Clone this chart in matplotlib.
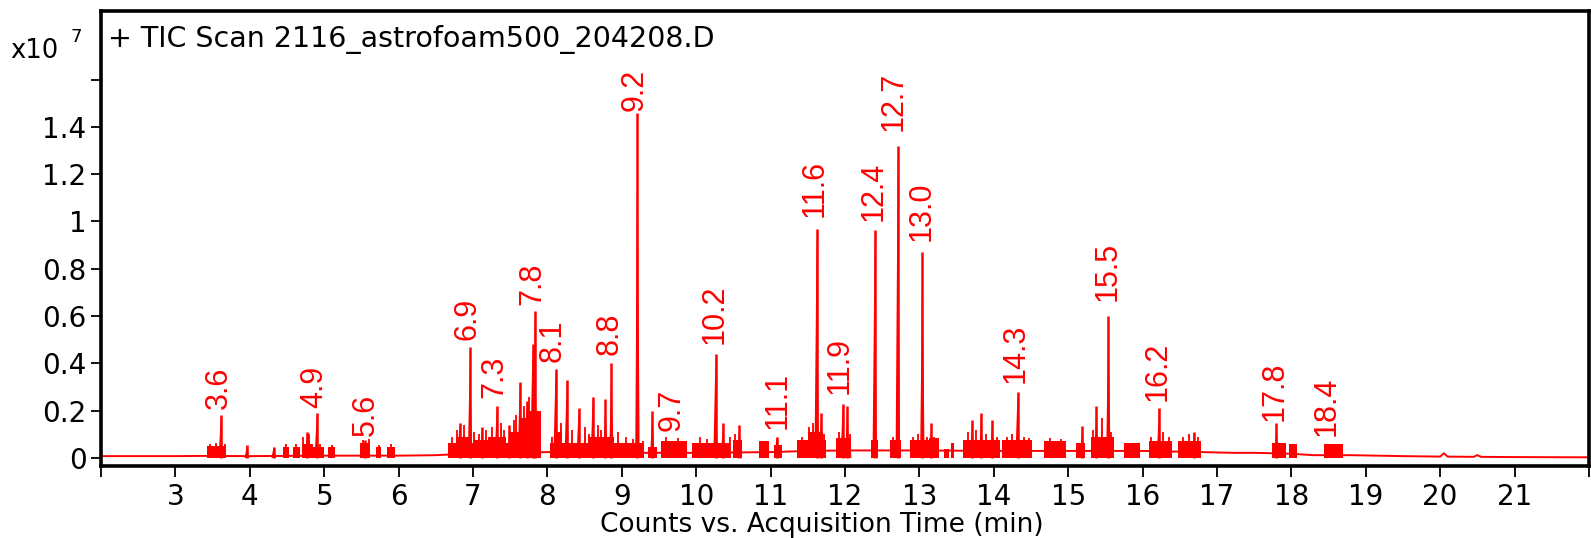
import matplotlib
matplotlib.use("Agg")
import matplotlib.pyplot as plt

# ---------------- data (units of 1e7 counts) ----------------
baseline_t = [2.0, 3.0, 3.4, 4.0, 5.0, 6.0, 6.5, 7.0, 8.0, 9.0, 10.0, 11.0, 11.5, 12.0,
              13.0, 14.0, 15.0, 16.0, 16.8, 17.2, 17.5, 18.0, 18.3, 18.8, 19.5, 20.0,
              20.05, 20.1, 20.45, 20.5, 20.55, 21.0, 22.0]
baseline_v = [0.008, 0.008, 0.009, 0.008, 0.010, 0.010, 0.012, 0.020, 0.025, 0.022, 0.022,
              0.025, 0.030, 0.032, 0.032, 0.030, 0.030, 0.030, 0.025, 0.022, 0.022, 0.018,
              0.012, 0.012, 0.008, 0.006, 0.020, 0.006, 0.005, 0.012, 0.005, 0.004, 0.003]

peak_t = [3.61, 3.96, 4.32, 4.77, 4.90, 5.55, 6.82, 6.96, 7.12, 7.32, 7.49, 7.63, 7.72,
          7.80, 7.83, 8.11, 8.26, 8.42, 8.61, 8.78, 8.86, 9.21, 9.41, 10.26, 10.36, 10.58,
          11.08, 11.62, 11.68, 11.97, 12.03, 12.40, 12.71, 13.04, 13.16, 13.71, 13.83,
          13.98, 14.32, 15.19, 15.38, 15.54, 16.22, 16.69, 17.80]
peak_v = [0.18, 0.055, 0.047, 0.11, 0.19, 0.075, 0.15, 0.47, 0.13, 0.22, 0.14, 0.32, 0.24,
          0.48, 0.62, 0.376, 0.33, 0.21, 0.26, 0.25, 0.40, 1.46, 0.20, 0.44, 0.15, 0.14,
          0.09, 0.97, 0.19, 0.23, 0.22, 0.965, 1.32, 0.87, 0.15, 0.16, 0.19,
          0.16, 0.28, 0.135, 0.22, 0.60, 0.21, 0.11, 0.15]

# small noise spikes riding on the dense regions
noise_t = [3.47, 3.55, 3.66, 4.48, 4.62, 4.72, 4.80, 4.95, 5.10, 5.52, 5.60, 5.73, 5.90,
           6.72, 6.78, 6.88, 7.02, 7.08, 7.18, 7.25, 7.38, 7.42, 7.55, 7.58, 7.68, 7.75,
           7.88, 8.06, 8.18, 8.33, 8.50, 8.56, 8.68, 8.72, 8.95, 9.05, 9.15, 9.28, 9.60,
           9.75, 10.05, 10.15, 10.45, 10.52, 11.42, 11.52, 11.57, 11.72, 11.92, 12.07,
           12.65, 12.92, 12.98, 13.10, 13.20, 13.65, 13.76, 13.90, 14.05, 14.18, 14.25,
           14.40, 14.48, 14.75, 14.90, 15.33, 15.45, 15.58, 16.12, 16.28, 16.35, 16.55,
           16.62, 16.75]
noise_v = [0.06, 0.065, 0.06, 0.06, 0.06, 0.09, 0.10, 0.06, 0.055, 0.075, 0.08, 0.055,
           0.06, 0.09, 0.12, 0.14, 0.11, 0.10, 0.12, 0.13, 0.15, 0.12, 0.16, 0.18, 0.22,
           0.26, 0.12, 0.09, 0.15, 0.12, 0.13, 0.10, 0.14, 0.12, 0.11, 0.09, 0.08, 0.07,
           0.09, 0.085, 0.09, 0.08, 0.09, 0.10, 0.09, 0.13, 0.15, 0.10, 0.11, 0.10,
           0.09, 0.09, 0.10, 0.09, 0.09, 0.11, 0.12, 0.10, 0.09, 0.09, 0.10,
           0.09, 0.085, 0.085, 0.08, 0.12, 0.17, 0.11, 0.09, 0.11, 0.09, 0.09,
           0.10, 0.09]

band_start = [3.43, 4.45, 4.58, 4.70, 4.85, 5.05, 5.48, 5.70, 5.85, 6.67, 6.78, 7.00, 7.20,
              7.50, 7.62, 7.75, 8.03, 8.10, 8.55, 9.10, 9.35, 9.53, 9.95, 10.50, 10.85,
              11.05, 11.35, 11.50, 11.88, 12.35, 12.60, 12.88, 13.13, 13.33, 13.43, 13.58,
              14.11, 14.68, 15.10, 15.31, 15.75, 16.08, 16.47, 17.74, 17.97, 18.44]
band_end = [3.68, 4.53, 4.68, 4.85, 5.00, 5.15, 5.62, 5.76, 5.95, 7.55, 6.95, 7.20, 7.45,
            7.62, 7.75, 7.92, 9.10, 8.20, 8.90, 9.30, 9.47, 9.87, 10.45, 10.62, 10.98,
            11.15, 11.75, 11.70, 12.08, 12.45, 12.75, 13.26, 13.26, 13.40, 13.47, 14.08,
            14.52, 14.97, 15.22, 15.61, 15.96, 16.40, 16.79, 17.93, 18.08, 18.70]
band_v = [0.05, 0.045, 0.045, 0.06, 0.045, 0.045, 0.065, 0.045, 0.045, 0.065, 0.09, 0.075,
          0.09, 0.11, 0.17, 0.20, 0.065, 0.11, 0.09, 0.065, 0.045, 0.07, 0.065, 0.075,
          0.07, 0.055, 0.075, 0.11, 0.085, 0.075, 0.075, 0.075, 0.085, 0.04, 0.065, 0.075,
          0.075, 0.07, 0.065, 0.09, 0.065, 0.07, 0.07, 0.065, 0.06, 0.06]

label_text = ["3.6", "4.9", "5.6", "6.9", "7.3", "7.8", "8.1", "8.8", "9.2", "9.7", "10.2",
              "11.1", "11.6", "11.9", "12.4", "12.7", "13.0", "14.3", "15.5", "16.2",
              "17.8", "18.4"]
label_t = [3.585, 4.87, 5.56, 6.92, 7.29, 7.80, 8.07, 8.84, 9.17, 9.67, 10.25, 11.09, 11.59,
           11.93, 12.38, 12.66, 13.03, 14.30, 15.53, 16.20, 17.77, 18.47]
label_v = [0.19, 0.195, 0.075, 0.48, 0.235, 0.63, 0.39, 0.42, 1.45, 0.095, 0.465, 0.105,
           1.0, 0.255, 0.985, 1.365, 0.9, 0.30, 0.645, 0.225, 0.14, 0.075]

x_ticks = list(range(2, 23))
x_ticklabels = [""] + [str(v) for v in range(3, 22)] + [""]
y_ticks = [0, 0.2, 0.4, 0.6, 0.8, 1.0, 1.2, 1.4, 1.6]
y_ticklabels = ["0", "0.2", "0.4", "0.6", "0.8", "1", "1.2", "1.4", ""]

title = "+ TIC Scan 2116_astrofoam500_204208.D"
xlabel = "Counts vs. Acquisition Time (min)"

# ---------------- drawing ----------------
RED = "#ff0000"
plt.rcParams["font.family"] = ["DejaVu Sans"]

fig = plt.figure(figsize=(15.91, 5.38), dpi=100)
ax = fig.add_axes([0.0635, 0.1338, 0.9352, 0.8458])

ax.plot(baseline_t, baseline_v, color=RED, lw=1.4, zorder=2)
ax.bar(band_start, band_v, width=[e - s for s, e in zip(band_start, band_end)],
       align="edge", color=RED, linewidth=0, zorder=2)
hw = 0.03
for t, v in zip(peak_t, peak_v):
    ax.fill([t - hw, t, t + hw], [0, v, 0], color=RED, lw=0, zorder=3)
ax.vlines(peak_t, 0, peak_v, color=RED, lw=1.8, zorder=3)
for t, v in zip(noise_t, noise_v):
    ax.fill([t - 0.015, t, t + 0.015], [0, v, 0], color=RED, lw=0, zorder=3)
ax.vlines(noise_t, 0, noise_v, color=RED, lw=1.3, zorder=3)

for s, t, v in zip(label_text, label_t, label_v):
    ax.annotate(s, (t, v), xytext=(0, 3), textcoords="offset points",
                rotation=90, ha="center", va="bottom", color=RED,
                fontsize=22, family=["Liberation Sans", "DejaVu Sans"])

ax.set_xlim(2, 22)
ax.set_ylim(-0.0338, 1.890)
ax.set_xticks(x_ticks)
ax.set_xticklabels(x_ticklabels)
ax.set_yticks(y_ticks)
ax.set_yticklabels(y_ticklabels)
ax.tick_params(axis="x", direction="out", length=8, width=1.3, pad=4.5, labelsize=20)
ax.tick_params(axis="y", direction="out", length=7, width=1.3, pad=3.5, labelsize=20)
for sp in ax.spines.values():
    sp.set_linewidth(2.6)
    sp.set_color("black")

fig.text(108 / 1591, 1 - 47 / 538, title, fontsize=20.5, va="baseline", ha="left")
fig.text(10 / 1591, 1 - 58 / 538, "x10", fontsize=18.5, va="baseline", ha="left")
fig.text(70 / 1591, 1 - 42 / 538, "7", fontsize=13, va="baseline", ha="left")
fig.text(822 / 1591, 1 - 532 / 538, xlabel, fontsize=19, va="baseline", ha="center")

fig.savefig("out.png", dpi=100)
